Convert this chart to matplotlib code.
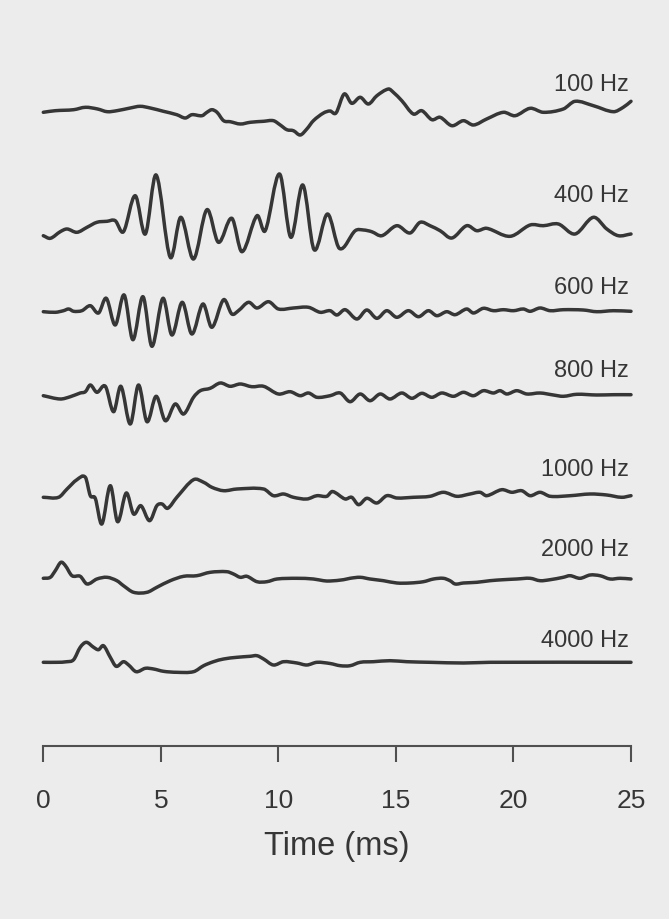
import matplotlib
matplotlib.use("Agg")
import matplotlib.pyplot as plt
from matplotlib.path import Path
from matplotlib.patches import PathPatch

plt.rcParams['font.family'] = ['Liberation Sans', 'DejaVu Sans']

# --- traces: time (ms) and amplitude (arbitrary units, up = positive)
t_100 = [0, 0.51, 1.29, 1.79, 2.31, 2.72, 3.13, 3.70, 4.12, 4.55, 5.11, 5.68, 6.04, 6.32, 6.75,
         6.96, 7.17, 7.39, 7.67, 7.95, 8.38, 8.80, 9.37, 9.79, 10.08, 10.36, 10.64, 10.93, 11.21,
         11.49, 11.92, 12.20, 12.45, 12.80, 13.12, 13.48, 13.83, 14.19, 14.68, 14.89, 15.25, 15.74,
         16.10, 16.53, 16.88, 17.38, 17.87, 18.30, 18.86, 19.57, 20.07, 20.71, 21.27, 22.12, 22.62,
         23.40, 24.25, 24.67, 25.0]
a_100 = [-0.3, 1.3, 2.3, 4.7, 3, 0.3, 1.3, 4, 5.7, 4, 0.7, -2.7, -6, -2.7, -3.7,
         -0.3, 2.3, -0.3, -8.7, -9.7, -12, -10.3, -9.3, -8.7, -13, -17.7, -18.7, -23, -17,
         -8.7, -1, 1, -1, 18, 8.7, 14.7, 8, 16.3, 23, 19.7, 11.3, -2,
         1.3, -7.7, -5.3, -13.7, -8.7, -13, -7, -0.3, -3.7, 3.7, -0.3, 3, 10.7,
         6.3, 0.3, 4.7, 10.7]

t_400 = [0, 0.30, 0.72, 1.01, 1.43, 1.86, 2.28, 2.71, 3.06, 3.41, 3.91, 4.34, 4.80, 5.40, 5.85,
         6.39, 6.96, 7.45, 8.02, 8.45, 9.09, 9.44, 10.05, 10.53, 11.04, 11.52, 12.09, 12.60, 13.27,
         13.62, 13.97, 14.40, 15.04, 15.60, 16.03, 16.45, 16.88, 17.38, 18.01, 18.44, 18.86, 19.86,
         20.71, 21.27, 21.91, 22.62, 23.40, 23.97, 24.46, 25.0]
a_400 = [-0.7, -3.3, 3.3, 6, 2.7, 7.7, 12.7, 13.7, 14.3, 3.3, 39.3, 1, 60, -22.3, 17.7,
         -24, 25.3, -7.3, 16.7, -16.7, 19.3, 4.3, 61, -2.3, 50, -14.7, 21, -13.5, 4.3,
         5, 3.3, -0.7, 9.3, 2, 12.7, 9.3, 4.3, -3, 9.3, 4.3, 6.7, -1.3,
         10, 9.3, 11, 1, 17.7, 6, -0.7, 1]

t_600 = [0, 0.51, 0.86, 1.08, 1.29, 1.64, 2.00, 2.35, 2.68, 3.06, 3.44, 3.81, 4.24, 4.62, 5.09,
         5.47, 5.91, 6.32, 6.79, 7.17, 7.67, 8.02, 8.30, 8.73, 9.09, 9.58, 10.00, 10.64, 11.28,
         11.78, 12.20, 12.49, 12.84, 13.34, 13.76, 14.19, 14.61, 15.04, 15.53, 15.96, 16.38, 16.74,
         17.16, 17.52, 18.01, 18.30, 18.72, 19.15, 19.57, 20.00, 20.42, 20.71, 21.13, 21.56, 22.12,
         22.97, 23.54, 24.25, 25.0]
a_600 = [-0.7, -1.3, 0.3, 2, -0.3, 0.3, 5.3, -2, 12.7, -14, 16, -28.7, 14.3, -35.3, 12.7,
         -24, 8.7, -23, 7, -16.3, 11.3, -3, 0.3, 8.7, 3, 9.3, 2, 3, 3.7,
         -1.3, 0.3, -4, 1.3, -8, 1, -7.3, 0.3, -6.3, 0.3, -5.7, 0.3, -4.7,
         -0.7, -3.7, 2, -2, 2.7, 0.3, 1.3, 0.3, 2, -0.3, 3, 0.3, 1.3,
         1, -0.7, 0.3, -0.3]

t_800 = [0, 0.72, 1.15, 1.57, 1.79, 2.00, 2.28, 2.64, 2.99, 3.30, 3.70, 4.05, 4.41, 4.80, 5.19,
         5.61, 5.97, 6.39, 6.68, 7.10, 7.53, 7.95, 8.38, 8.87, 9.37, 10.00, 10.50, 10.93, 11.28,
         11.64, 12.20, 12.63, 13.05, 13.48, 13.90, 14.33, 14.75, 15.25, 15.68, 16.10, 16.53, 16.95,
         17.45, 17.87, 18.30, 18.72, 19.15, 19.43, 19.72, 20.14, 20.57, 21.13, 21.70, 22.12, 22.69,
         23.54, 24.25, 25.0]
a_800 = [0.3, -3, -0.7, 3, 4.3, 11, 3.7, 9.7, -15.7, 9.7, -28, 11, -25.7, -0.3, -24.7,
         -8, -18, -1.3, 5.3, 7.7, 13, 9.7, 12, 9.3, 9.7, 2, 4.3, 0.3, 3,
         -1.3, 0.3, 3, -5.7, 2, -4.7, 2, -3, 3, -2.3, 2.7, -1.3, 3,
         -0.3, 3.7, 0.3, 5.3, 3, 5.3, 2, 5.3, 2, 3, 1, -0.3, 1.7,
         1, 1.3, 1.3]

t_1000 = [0, 0.65, 1.01, 1.43, 1.79, 2.00, 2.21, 2.49, 2.85, 3.16, 3.53, 3.84, 4.15, 4.52, 4.83,
          5.05, 5.29, 5.68, 6.39, 6.82, 7.17, 7.67, 8.24, 9.37, 9.79, 10.22, 10.64, 11.21, 11.64,
          12.06, 12.30, 12.84, 13.12, 13.41, 13.76, 14.19, 14.61, 15.04, 15.74, 16.45, 17.02, 17.59,
          18.15, 18.58, 18.86, 19.50, 19.93, 20.35, 20.71, 21.13, 21.56, 22.41, 23.26, 23.97, 24.60,
          25.0]
a_1000 = [-0.3, -0.3, 8, 17.3, 19.7, 1.3, -1.3, -27, 11.3, -24.7, 4, -17, -8.7, -23.7, -8.7,
          -7, -11.3, -0.3, 17.3, 14.7, 9.7, 6.3, 8, 8, 1.3, 3, -0.3, -2, 1.3,
          0.7, 5.5, -2, -0.3, -7.7, -1.3, -6, 1.3, -1, -0.3, 0.7, 4.7, 0.7,
          3, 4.7, 1.3, 7.3, 4.7, 6.3, 1.3, 4.7, 0.7, 1.3, 3, 2, -0.3,
          1.3]

t_2000 = [0, 0.30, 0.51, 0.75, 0.94, 1.22, 1.57, 1.86, 2.28, 2.71, 3.13, 3.41, 3.84, 4.41, 4.83,
          5.40, 5.97, 6.53, 7.10, 7.81, 8.09, 8.38, 8.66, 9.09, 9.51, 9.94, 10.79, 11.49, 11.92,
          12.20, 12.77, 13.05, 13.48, 13.90, 14.47, 15.04, 15.60, 16.17, 16.60, 17.02, 17.30, 17.52,
          17.87, 18.44, 19.00, 19.57, 20.14, 20.71, 21.13, 21.56, 22.12, 22.41, 22.83, 23.26, 23.68,
          24.11, 24.53, 25.0]
a_2000 = [-0.3, 0.7, 7.3, 15.7, 12.3, 2.3, 1.7, -6, -1, 0.7, -2.7, -7.7, -14.3, -14.3, -9.3,
          -2.7, 1.7, 2.3, 5.7, 6.3, 4, 0.7, 1.7, -3.7, -3.7, -1, -0.3, -1, -2.7,
          -3, -1.7, -0.3, 0.7, -1, -2.7, -5, -5, -3.7, -1, -0.3, -2.7, -6,
          -5, -4.3, -2.7, -1.7, -1, -0.3, -2.7, -1.7, 0.7, 2.3, -0.3, 3, 2.3,
          -1, -0.3, -1]

t_4000 = [0, 0.58, 1.01, 1.29, 1.57, 1.83, 2.14, 2.35, 2.56, 2.85, 3.10, 3.41, 3.63, 3.95, 4.34,
          4.69, 5.11, 5.68, 6.39, 6.82, 7.24, 7.67, 8.24, 8.80, 9.09, 9.37, 9.79, 10.22, 10.79,
          11.21, 11.64, 12.20, 12.63, 13.05, 13.48, 14.04, 14.75, 15.46, 16.45, 17.87, 19.00, 25.0]
a_4000 = [-0.3, -0.3, 0.3, 2.3, 14.7, 19.7, 14.7, 12.3, 16.3, 4.7, -4.3, 0.3, -3, -9.7, -6.3,
          -7, -9.3, -10.3, -9.7, -3.7, 0.3, 3, 4.7, 5.7, 6.3, 3, -3, 0.3, -1,
          -3, -0.3, -1.5, -3.7, -3.7, -0.3, 0.3, 1.3, 0.3, -0.3, -1, -0.3, -0.3]

labels = ["100 Hz", "400 Hz", "600 Hz", "800 Hz", "1000 Hz", "2000 Hz", "4000 Hz"]
times = [t_100, t_400, t_600, t_800, t_1000, t_2000, t_4000]
amps = [a_100, a_400, a_600, a_800, a_1000, a_2000, a_4000]
x_ticks = [0, 5, 10, 15, 20, 25]

# layout: vertical baseline of each trace and height of its label
baselines = [634, 511, 435, 350, 249, 168, 84]
label_y = [662, 551, 459, 376, 277, 197, 106]

BG = '#ececec'
INK = '#363636'


def pen_path(x, y):
    """Smooth pen stroke through the read points (cubic Hermite segments)."""
    n = len(x)
    slopes = []
    for i in range(n):
        lo, hi = max(i - 1, 0), min(i + 1, n - 1)
        slopes.append((y[hi] - y[lo]) / (x[hi] - x[lo]))
    verts = [(x[0], y[0])]
    codes = [Path.MOVETO]
    for i in range(n - 1):
        h = (x[i + 1] - x[i]) / 3.0
        verts += [(x[i] + h, y[i] + slopes[i] * h),
                  (x[i + 1] - h, y[i + 1] - slopes[i + 1] * h),
                  (x[i + 1], y[i + 1])]
        codes += [Path.CURVE4] * 3
    return Path(verts, codes)


fig = plt.figure(figsize=(6.69, 9.20), dpi=100, facecolor=BG)
ax = fig.add_axes([43.3 / 669, 173 / 920, 587.7 / 669, 747 / 920])
ax.set_facecolor(BG)

for t, a, base in zip(times, amps, baselines):
    ys = [base + v for v in a]
    ax.add_patch(PathPatch(pen_path(t, ys), fill=False, edgecolor=INK, lw=2.5,
                           joinstyle='round', capstyle='round', clip_on=False))

for lab, y in zip(labels, label_y):
    ax.text(24.9, y, lab, ha='right', va='center', fontsize=17, color=INK)

ax.set_xlim(0, 25)
ax.set_ylim(0, 747)
for side in ['top', 'left', 'right']:
    ax.spines[side].set_visible(False)
ax.spines['bottom'].set_color('#505050')
ax.spines['bottom'].set_linewidth(1.5)
ax.set_yticks([])
ax.set_xticks(x_ticks)
ax.set_xticklabels([str(v) for v in x_ticks])
ax.tick_params(axis='x', direction='out', length=11.5, width=1.5, color='#505050',
               labelsize=19, labelcolor=INK, pad=19)
ax.set_xlabel("Time (ms)", fontsize=23.5, color=INK, labelpad=13)

fig.savefig("out.png", dpi=100, facecolor=BG)
